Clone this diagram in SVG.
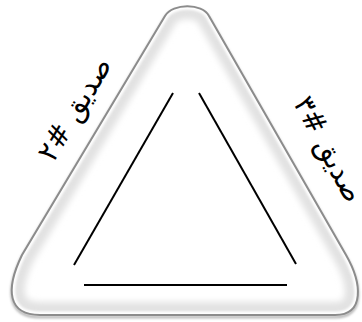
<svg xmlns="http://www.w3.org/2000/svg" width="362" height="322" viewBox="0 0 362 322">
<style>
.lbl{font-family:"DejaVu Sans","Noto Sans",sans-serif;font-size:29px;fill:#000;text-anchor:middle}
.edge{stroke:#000;stroke-width:2;fill:none}
</style>
<defs>
<path id="shape" d="M165,16 C173,3 202,3 209,16 L346,255 C362,283 365,315 335,315 L40,315 C8,315 5,290 22,255 Z"/>
<clipPath id="clip"><use href="#shape"/></clipPath>
<filter id="blur" x="-10%" y="-10%" width="120%" height="120%"><feGaussianBlur stdDeviation="3"/></filter>
<filter id="blur1" x="-10%" y="-10%" width="120%" height="120%"><feGaussianBlur stdDeviation="1"/></filter>
</defs>
<rect width="362" height="322" fill="#fff"/>
<g id="frame">
<use href="#shape" fill="#fff" stroke="#bbb" stroke-width="3" transform="translate(0,2)" filter="url(#blur1)"/>
<use href="#shape" fill="#fff"/>
<g clip-path="url(#clip)">
<use href="#shape" fill="none" stroke="#e2e2e2" stroke-width="26" filter="url(#blur)"/>
<use href="#shape" fill="none" stroke="#fff" stroke-width="7" filter="url(#blur1)"/>
</g>
<use href="#shape" fill="none" stroke="#8c8c8c" stroke-width="2"/>
</g>
<g id="connectors">
<line class="edge" x1="173" y1="93" x2="74" y2="265"/>
<line class="edge" x1="199" y1="93" x2="296" y2="264"/>
<line class="edge" x1="84" y1="285" x2="287" y2="285"/>
</g>
<g id="label-friend2">
<text class="lbl" direction="rtl" transform="translate(76,110) rotate(-59)" x="0" y="8" textLength="115" lengthAdjust="spacingAndGlyphs">صديق #٢</text>
</g>
<g id="label-friend3">
<text class="lbl" direction="rtl" transform="translate(327,150) rotate(62)" x="0" y="8" textLength="115" lengthAdjust="spacingAndGlyphs">صديق #٣</text>
</g>
</svg>
